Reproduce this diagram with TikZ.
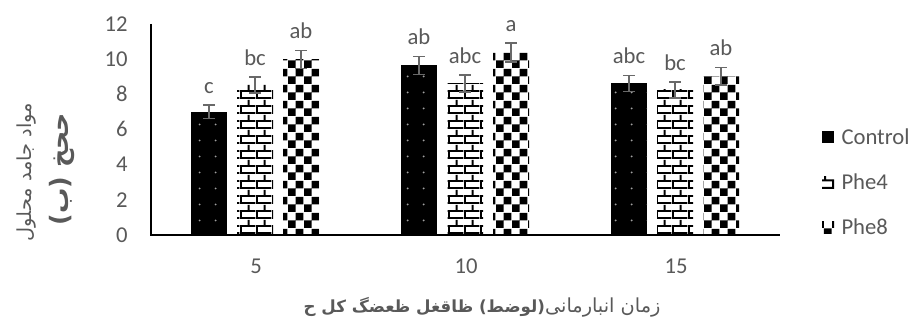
\documentclass[tikz,border=0pt]{standalone}
\usepackage{fontspec}
\setmainfont{Carlito}
\newfontfamily\arabicfont[Script=Arabic]{DejaVu Sans}
\TeXXeTstate=1
\usetikzlibrary{patterns}

\definecolor{txtgray}{RGB}{89,89,89}
\definecolor{errgray}{RGB}{105,105,105}
\definecolor{dotgray}{RGB}{160,160,160}

% bar fills
\pgfdeclarepatternformonly{sparsedots}{\pgfpointorigin}{\pgfpoint{12pt}{12pt}}{\pgfpoint{12pt}{12pt}}{
  \pgfpathcircle{\pgfpoint{6pt}{6pt}}{0.8pt}
  \pgfusepath{fill}}
\pgfdeclarepatternformonly{brickwall}{\pgfpointorigin}{\pgfpoint{12pt}{11.25pt}}{\pgfpoint{12pt}{11.25pt}}{
  \pgfpathrectangle{\pgfpoint{0pt}{0pt}}{\pgfpoint{12pt}{1.5pt}}
  \pgfpathrectangle{\pgfpoint{0pt}{5.625pt}}{\pgfpoint{12pt}{1.5pt}}
  \pgfpathrectangle{\pgfpoint{0pt}{0pt}}{\pgfpoint{1.5pt}{5.625pt}}
  \pgfpathrectangle{\pgfpoint{6pt}{5.625pt}}{\pgfpoint{1.5pt}{5.625pt}}
  \pgfusepath{fill}}
\pgfdeclarepatternformonly{checkers}{\pgfpointorigin}{\pgfpoint{12pt}{12pt}}{\pgfpoint{12pt}{12pt}}{
  \pgfpathrectangle{\pgfpointorigin}{\pgfpoint{6pt}{6pt}}
  \pgfpathrectangle{\pgfpoint{6pt}{6pt}}{\pgfpoint{6pt}{6pt}}
  \pgfusepath{fill}}

\tikzset{every picture/.style={line width=0.75pt}}
\tikzset{
  ctrlbar/.style={fill=black, postaction={pattern=sparsedots, pattern color=dotgray}},
  phefourbar/.style={fill=white, postaction={pattern=brickwall, pattern color=black}},
  pheeightbar/.style={fill=white, postaction={pattern=checkers, pattern color=black}},
  errbar/.style={draw=errgray, line width=1.1pt},
  charttext/.style={text=txtgray, inner sep=0.75pt, font=\fontsize{17}{20}\selectfont},
  titletext/.style={text=txtgray, inner sep=0.75pt, font=\fontsize{14.5}{17}\selectfont\arabicfont},
}

\begin{document}
\begin{tikzpicture}[x=0.75pt,y=0.75pt,yscale=-1,xscale=1]
\useasboundingbox (0,0) rectangle (913,324);

%Shape: Rectangle (storage 5)
\fill [ctrlbar] (191,111.8) rectangle (227,235) ;
\fill [phefourbar] (237,85) rectangle (273,235) ;
\fill [pheeightbar] (283,59.5) rectangle (319,235) ;
%Shape: Rectangle (storage 10)
\fill [ctrlbar] (401,65.5) rectangle (437,235) ;
\fill [phefourbar] (447,83.5) rectangle (483,235) ;
\fill [pheeightbar] (493,52.5) rectangle (529,235) ;
%Shape: Rectangle (storage 15)
\fill [ctrlbar] (611,83.5) rectangle (647,235) ;
\fill [phefourbar] (657,90) rectangle (693,235) ;
\fill [pheeightbar] (703,76.5) rectangle (739,235) ;

%Error Bars
\draw [errbar] (209,105) -- (209,118.5) (203,105) -- (215,105) (203,118.5) -- (215,118.5) ;
\draw [errbar] (255,77) -- (255,93) (249,77) -- (261,77) (249,93) -- (261,93) ;
\draw [errbar] (301,50.5) -- (301,68.5) (295,50.5) -- (307,50.5) (295,68.5) -- (307,68.5) ;
\draw [errbar] (419,56.5) -- (419,74.5) (413,56.5) -- (425,56.5) (413,74.5) -- (425,74.5) ;
\draw [errbar] (465,75) -- (465,92) (459,75) -- (471,75) (459,92) -- (471,92) ;
\draw [errbar] (511,43) -- (511,62) (505,43) -- (517,43) (505,62) -- (517,62) ;
\draw [errbar] (629,75.5) -- (629,91.5) (623,75.5) -- (635,75.5) (623,91.5) -- (635,91.5) ;
\draw [errbar] (675,82) -- (675,98) (669,82) -- (681,82) (669,98) -- (681,98) ;
\draw [errbar] (721,67.5) -- (721,85) (715,67.5) -- (727,67.5) (715,85) -- (727,85) ;

%Straight Lines (axes)
\draw [line width=1.5] (151,23.8) -- (151,235) -- (780,235) ;

% Text Node
\draw (209,93.5) node [anchor=base][charttext] (sigca) {c};
\draw (255,65.5) node [anchor=base][charttext] (sigcb) {bc};
\draw (301,39) node [anchor=base][charttext] (sigcc) {ab};
\draw (419,45) node [anchor=base][charttext] (sigda) {ab};
\draw (465,63.5) node [anchor=base][charttext] (sigdb) {abc};
\draw (511,31.5) node [anchor=base][charttext] (sigdc) {a};
\draw (629,64) node [anchor=base][charttext] (sigea) {abc};
\draw (675,70.5) node [anchor=base][charttext] (sigeb) {bc};
\draw (721,56) node [anchor=base][charttext] (sigec) {ab};

% Text Node
\draw (129,235) node [anchor=east][charttext] (ytickA) {0};
\draw (129,199.8) node [anchor=east][charttext] (ytickB) {2};
\draw (129,164.6) node [anchor=east][charttext] (ytickC) {4};
\draw (129,129.4) node [anchor=east][charttext] (ytickD) {6};
\draw (129,94.2) node [anchor=east][charttext] (ytickE) {8};
\draw (129,59) node [anchor=east][charttext] (ytickF) {10};
\draw (129,23.8) node [anchor=east][charttext] (ytickG) {12};

% Text Node
\draw (256,273) node [anchor=base][charttext] (xtickA) {5};
\draw (466,273) node [anchor=base][charttext] (xtickB) {10};
\draw (676,273) node [anchor=base][charttext] (xtickC) {15};

%Legend
\fill [black] (822,131) rectangle (834,143) ;
\fill [phefourbar] (822,176) rectangle (834,188) ;
\fill [pheeightbar] (822,221) rectangle (834,233) ;
\draw (840,137) node [anchor=west][charttext] (legctrl) {Control};
\draw (840,182) node [anchor=west][charttext] (legfour) {Phe4};
\draw (840,227) node [anchor=west][charttext] (legeight) {Phe8};

% Text Node (axis titles)
\draw (27,172) node [rotate=90][titletext] (ytitle) {\beginR مواد جامد محلول\endR};
\draw (62,169) node [rotate=90][titletext] (yunit) {\bfseries\fontsize{19}{22}\selectfont\beginR ححخ (ب)\endR};
\draw (662,307) node [anchor=east][titletext] (xtitle) {\beginR زمان انبارمانی{\bfseries\fontsize{12.5}{15}\selectfont(لوضط) ظاقغل ظعضگ کل ح}\endR};

\end{tikzpicture}
\end{document}
